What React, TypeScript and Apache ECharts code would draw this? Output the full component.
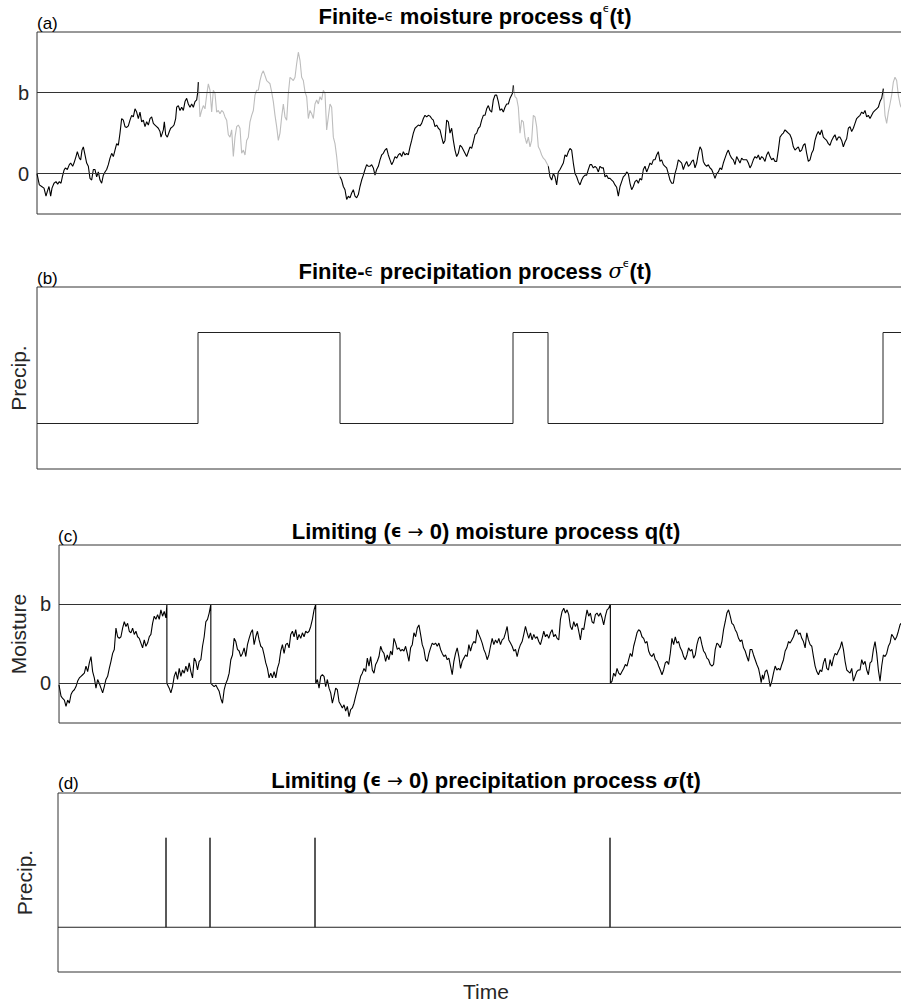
import React, { useEffect, useRef } from "react";
import * as echarts from "echarts";

// ---------- Panel (a): finite-epsilon moisture process q^eps(t) (units of b) ----------
const tA = [
  0, 7, 14, 21, 27, 31, 36, 41, 45, 51, 57, 62, 67, 72, 76, 81, 85, 91, 97, 101, 107, 111, 117, 121, 127, 131, 135, 139, 144, 149,
  154, 159, 164, 169, 174, 179, 184, 189, 194, 199, 204, 209, 214, 219, 224, 229, 234, 239, 244, 249, 254, 259, 264, 269, 274, 279,
  284, 289, 294, 299, 304, 309, 314, 319, 324, 329, 334, 339, 344, 349, 354, 359, 364, 369, 372, 376, 379, 382, 386, 391, 397, 401,
  407, 411, 416, 419, 424, 429, 434, 439, 444, 449, 454, 459, 464, 469, 474, 479, 482,
  484, 489, 494, 499, 504, 509, 514, 519, 524, 529, 534, 539, 544, 549, 554, 559, 564, 569, 574, 579, 584, 589, 594, 599, 604, 609,
  614, 619, 624, 629, 634, 639, 644, 649, 654, 659, 664, 669, 674, 679, 684, 689, 694, 699, 704, 709, 714, 719, 724, 729, 734, 739,
  744, 749, 754, 759, 764, 769, 774, 779, 784, 789, 794, 799, 804, 809, 814, 819, 824, 829, 834, 839, 844, 849, 854, 859, 864, 869,
  874, 879, 884, 889, 894, 899, 904,
  909, 914, 919, 924, 929, 934, 939, 944, 949, 954, 959, 964, 969, 974, 979, 984, 989, 994, 999, 1004, 1009, 1014, 1019, 1024, 1029,
  1034, 1039, 1044, 1049, 1054, 1059, 1064, 1069, 1074, 1079, 1084, 1089, 1094, 1099, 1104, 1109, 1114, 1119, 1124, 1129, 1134, 1139,
  1144, 1149, 1154, 1159, 1164, 1169, 1174, 1179, 1184, 1189, 1194, 1199, 1204, 1209, 1214, 1219, 1224, 1229, 1234, 1239, 1244, 1249,
  1254, 1259, 1264, 1269, 1274, 1279, 1284, 1289, 1294, 1299, 1304, 1309, 1314, 1319, 1324, 1329, 1334, 1339, 1344, 1349, 1354, 1359,
  1364, 1369, 1374, 1379, 1384, 1389, 1394, 1399, 1404, 1409, 1414, 1419, 1424, 1427,
  1429, 1434, 1439, 1444, 1449, 1454, 1459, 1464, 1469, 1474, 1479, 1484, 1489, 1494, 1499, 1504, 1509, 1514, 1519, 1524, 1529, 1534,
  1539, 1544, 1549, 1554, 1559, 1564, 1569, 1574, 1579, 1584, 1589, 1594, 1599, 1604, 1609, 1614, 1619, 1624, 1629, 1634, 1639, 1644,
  1649, 1654, 1659, 1664, 1669, 1674, 1679, 1684, 1689, 1694, 1699, 1704, 1709, 1714, 1719, 1724, 1729, 1734, 1739, 1744, 1749, 1754,
  1759, 1764, 1769, 1774, 1779, 1784, 1789, 1794, 1799, 1804, 1809, 1814, 1819, 1824, 1829, 1834, 1839, 1844, 1849, 1854, 1859, 1864,
  1869, 1874, 1879, 1884, 1889, 1894, 1899, 1904, 1909, 1914, 1919, 1924, 1929, 1934, 1939, 1944, 1949, 1954, 1959, 1964, 1969, 1974,
  1979, 1984, 1989, 1994, 1999, 2004, 2009, 2014, 2019, 2024, 2029, 2034, 2039, 2044, 2049, 2054, 2059, 2064, 2069, 2074, 2079, 2084,
  2089, 2094, 2099, 2104, 2109, 2114, 2119, 2124, 2129, 2134, 2139, 2144, 2149, 2154, 2159, 2164, 2169, 2174, 2179, 2184, 2189, 2194,
  2199, 2204, 2209, 2214, 2219, 2224, 2229, 2234, 2239, 2244, 2249, 2254, 2259, 2264, 2269, 2274, 2279, 2284, 2289, 2294, 2299, 2304,
  2309, 2314, 2319, 2324, 2329, 2334, 2339, 2344, 2349, 2354, 2359, 2364, 2369, 2374, 2379, 2384, 2389, 2394, 2399, 2404, 2409, 2414,
  2419, 2424, 2429, 2434, 2439, 2444, 2449, 2454, 2459, 2464, 2469, 2474, 2479, 2484, 2489, 2494, 2499, 2504, 2509, 2514, 2519, 2524,
  2529, 2534, 2537,
  2539, 2544, 2549, 2554, 2559, 2564, 2569, 2574, 2579, 2584, 2589, 2592,
];
const qA = [
  0.0, -0.14, -0.16, -0.18, -0.28, -0.22, -0.16, -0.28, -0.18, -0.12, -0.1, -0.13, -0.1, -0.12, -0.04, 0.04, 0.07, 0.05, 0.11, 0.13,
  0.09, 0.13, 0.21, 0.27, 0.19, 0.17, 0.29, 0.33, 0.23, 0.13, 0.09, -0.06, -0.08, 0.05, 0.05, -0.04, 0.02, -0.08, -0.12, -0.02, 0.02,
  0.05, 0.11, 0.19, 0.25, 0.21, 0.29, 0.37, 0.35, 0.5, 0.68, 0.66, 0.58, 0.57, 0.59, 0.66, 0.72, 0.7, 0.8, 0.76, 0.68, 0.76, 0.64,
  0.66, 0.58, 0.64, 0.6, 0.68, 0.7, 0.62, 0.6, 0.58, 0.56, 0.52, 0.45, 0.5, 0.54, 0.64, 0.48, 0.45, 0.52, 0.56, 0.58, 0.6, 0.68, 0.82,
  0.84, 0.78, 0.82, 0.78, 0.89, 0.93, 0.86, 0.82, 0.86, 0.82, 0.89, 0.91, 1.0,
  1.13, 0.7, 0.78, 0.84, 0.8, 0.97, 1.11, 1.03, 0.76, 1.03, 0.99, 0.76, 0.78, 0.74, 0.78, 0.76, 0.7, 0.66, 0.48, 0.45, 0.54, 0.21,
  0.45, 0.58, 0.6, 0.56, 0.25, 0.29, 0.23, 0.41, 0.45, 0.64, 0.72, 0.78, 0.97, 1.03, 1.03, 1.15, 1.23, 1.27, 1.21, 1.15, 1.13, 1.11,
  1.01, 0.89, 0.72, 0.58, 0.41, 0.5, 0.7, 0.86, 0.7, 0.66, 0.99, 1.19, 1.17, 1.15, 1.19, 1.36, 1.5, 1.4, 1.19, 1.15, 1.01, 0.95, 0.68,
  0.78, 0.74, 0.68, 0.86, 0.91, 0.86, 0.95, 0.91, 1.03, 0.99, 0.54, 0.7, 0.86, 0.82, 0.45, 0.37, 0.21, 0.0,
  -0.04, -0.08, -0.16, -0.2, -0.32, -0.28, -0.3, -0.24, -0.2, -0.28, -0.3, -0.26, -0.16, -0.08, -0.02, 0.05, 0.11, 0.09, 0.09, 0.11,
  0.07, -0.02, 0.05, 0.09, 0.17, 0.23, 0.25, 0.29, 0.31, 0.23, 0.17, 0.11, 0.15, 0.21, 0.19, 0.23, 0.25, 0.21, 0.27, 0.23, 0.25, 0.23,
  0.33, 0.41, 0.5, 0.56, 0.58, 0.6, 0.59, 0.62, 0.68, 0.72, 0.7, 0.72, 0.71, 0.68, 0.66, 0.58, 0.6, 0.56, 0.54, 0.45, 0.37, 0.41, 0.66,
  0.64, 0.5, 0.56, 0.41, 0.29, 0.21, 0.25, 0.35, 0.33, 0.29, 0.25, 0.21, 0.27, 0.33, 0.31, 0.39, 0.48, 0.5, 0.56, 0.58, 0.66, 0.72,
  0.72, 0.8, 0.84, 0.78, 0.76, 0.91, 0.97, 0.97, 0.89, 0.78, 0.8, 0.76, 0.82, 0.86, 0.86, 0.93, 0.97, 1.0,
  1.09, 0.95, 0.93, 0.82, 0.5, 0.66, 0.64, 0.45, 0.37, 0.45, 0.33, 0.41, 0.72, 0.7, 0.58, 0.33, 0.29, 0.23, 0.19, 0.17, 0.13, 0.09,
  -0.04, -0.08, 0.0, -0.04, -0.14, 0.02, 0.05, 0.09, 0.13, 0.23, 0.21, 0.27, 0.31, 0.29, 0.13, 0.0, -0.04, -0.1, -0.14, -0.08, -0.04,
  -0.02, -0.02, 0.05, 0.11, 0.11, 0.07, 0.09, 0.07, 0.02, 0.09, 0.07, 0.07, -0.04, -0.02, -0.06, -0.06, -0.08, -0.1, -0.14, -0.17,
  -0.28, -0.16, -0.1, -0.04, -0.02, 0.02, 0.0, -0.12, -0.2, -0.16, -0.1, -0.08, -0.12, -0.06, -0.08, 0.05, 0.09, 0.02, 0.07, 0.13,
  0.11, 0.17, 0.17, 0.23, 0.27, 0.15, 0.17, 0.11, 0.09, 0.07, 0.0, -0.08, -0.12, -0.12, 0.0, 0.07, 0.17, 0.15, 0.13, 0.05, 0.11, 0.15,
  0.09, 0.11, 0.15, 0.17, 0.07, 0.13, 0.25, 0.33, 0.29, 0.15, 0.11, 0.09, 0.11, 0.07, 0.05, 0.0, -0.06, 0.0, 0.02, 0.07, 0.05, 0.13,
  0.19, 0.25, 0.29, 0.23, 0.19, 0.17, 0.11, 0.21, 0.17, 0.13, 0.19, 0.17, 0.17, 0.17, 0.13, 0.07, 0.11, 0.17, 0.21, 0.19, 0.23, 0.17,
  0.21, 0.19, 0.15, 0.23, 0.27, 0.21, 0.17, 0.19, 0.15, 0.15, 0.29, 0.45, 0.48, 0.5, 0.54, 0.52, 0.5, 0.48, 0.43, 0.33, 0.29, 0.31,
  0.33, 0.27, 0.29, 0.35, 0.37, 0.25, 0.15, 0.17, 0.25, 0.29, 0.41, 0.48, 0.52, 0.48, 0.54, 0.45, 0.43, 0.41, 0.37, 0.35, 0.41, 0.45,
  0.48, 0.41, 0.45, 0.45, 0.41, 0.33, 0.39, 0.43, 0.56, 0.58, 0.52, 0.56, 0.62, 0.68, 0.7, 0.72, 0.76, 0.74, 0.78, 0.7, 0.72, 0.68,
  0.72, 0.76, 0.78, 0.8, 0.82, 0.89, 0.93, 1.0,
  1.05, 0.72, 0.62, 0.76, 0.86, 0.97, 1.13, 1.19, 1.15, 0.97, 0.86, 0.82,
];
// precipitation (sigma^eps = 1) intervals, same time units
const precipStartA = [483, 1428, 2538];
const precipEndA = [909, 1533, 2628];
const tMaxA = 2628;

// ---------- Panel (c): limiting moisture process q(t) ----------
const tC = [
  0, 6, 11, 16, 21, 26, 31, 36, 41, 46, 51, 56, 61, 66, 71, 76, 81, 86, 91, 96, 101, 106, 111, 116, 121, 126, 131, 136, 141, 146, 151,
  156, 161, 166, 171, 176, 181, 186, 191, 196, 201, 206, 211, 216, 221, 226, 231, 236, 241, 246, 251, 256, 261, 266, 271, 276, 281,
  286, 291, 296, 301, 306, 311, 316, 321, 324,
  324, 326, 331, 336, 341, 346, 351, 356, 361, 366, 371, 376, 381, 386, 391, 396, 401, 406, 411, 416, 421, 426, 431, 436, 441, 446,
  451, 456,
  456, 461, 466, 471, 476, 481, 486, 491, 496, 501, 506, 511, 516, 521, 526, 531, 536, 541, 546, 551, 556, 561, 566, 571, 576, 581,
  586, 591, 596, 601, 606, 611, 616, 621, 626, 631, 636, 641, 646, 651, 656, 661, 666, 671, 676, 681, 686, 691, 696, 701, 706, 711,
  716, 721, 726, 731, 736, 741, 746, 751, 756, 761, 766, 771,
  771, 776, 781, 786, 791, 796, 801, 806, 811, 816, 821, 826, 831, 836, 841, 846, 851, 856, 861, 866, 871, 876, 881, 886, 891, 896,
  901, 906, 911, 916, 921, 926, 931, 936, 941, 946, 951, 956, 961, 966, 971, 976, 981, 986, 991, 996, 1001, 1006, 1011, 1016, 1021,
  1026, 1031, 1036, 1041, 1046, 1051, 1056, 1061, 1066, 1071, 1076, 1081, 1086, 1091, 1096, 1101, 1106, 1111, 1116, 1121, 1126, 1131,
  1136, 1141, 1146, 1151, 1156, 1161, 1166, 1171, 1176, 1181, 1186, 1191, 1196, 1201, 1206, 1211, 1216, 1221, 1226, 1231, 1236, 1241,
  1246, 1251, 1256, 1261, 1266, 1271, 1276, 1281, 1286, 1291, 1296, 1301, 1306, 1311, 1316, 1321, 1326, 1331, 1336, 1341, 1346, 1351,
  1356, 1361, 1366, 1371, 1376, 1381, 1386, 1391, 1396, 1401, 1406, 1411, 1416, 1421, 1426, 1431, 1436, 1441, 1446, 1451, 1456, 1461,
  1466, 1471, 1476, 1481, 1486, 1491, 1496, 1501, 1506, 1511, 1516, 1521, 1526, 1531, 1536, 1541, 1546, 1551, 1556, 1561, 1566, 1571,
  1576, 1581, 1586, 1591, 1596, 1601, 1606, 1611, 1616, 1621, 1626, 1631, 1636, 1641, 1646, 1651, 1656,
  1656, 1661, 1666, 1671, 1676, 1681, 1686, 1691, 1696, 1701, 1706, 1711, 1716, 1721, 1726, 1731, 1736, 1741, 1746, 1751, 1756, 1761,
  1766, 1771, 1776, 1781, 1786, 1791, 1796, 1801, 1806, 1811, 1816, 1821, 1826, 1831, 1836, 1841, 1846, 1851, 1856, 1861, 1866, 1871,
  1876, 1881, 1886, 1891, 1896, 1901, 1906, 1911, 1916, 1921, 1926, 1931, 1936, 1941, 1946, 1951, 1956, 1961, 1966, 1971, 1976, 1981,
  1986, 1991, 1996, 2001, 2006, 2011, 2016, 2021, 2026, 2031, 2036, 2041, 2046, 2051, 2056, 2061, 2066, 2071, 2076, 2081, 2086, 2091,
  2096, 2101, 2106, 2109, 2113, 2116, 2121, 2126, 2131, 2136, 2141, 2146, 2151, 2156, 2161, 2166, 2171, 2176, 2181, 2186, 2191, 2196,
  2201, 2206, 2211, 2216, 2221, 2226, 2231, 2236, 2241, 2246, 2251, 2256, 2261, 2266, 2271, 2276, 2281, 2286, 2291, 2296, 2301, 2306,
  2311, 2316, 2321, 2326, 2331, 2336, 2341, 2346, 2351, 2356, 2361, 2366, 2371, 2376, 2381, 2386, 2391, 2396, 2401, 2406, 2411, 2416,
  2421, 2426, 2431, 2436, 2441, 2446, 2451, 2456, 2461, 2466, 2471, 2476, 2481, 2486, 2491, 2496, 2501, 2506, 2511, 2516, 2521, 2526,
  2529,
];
const qC = [
  -0.02, -0.16, -0.19, -0.21, -0.29, -0.21, -0.25, -0.14, -0.1, -0.08, -0.04, 0.03, 0.07, 0.09, 0.11, 0.13, 0.22, 0.15, 0.26, 0.34,
  0.15, 0.07, -0.06, 0.05, 0.0, -0.06, -0.12, -0.04, 0.05, 0.09, 0.19, 0.28, 0.38, 0.43, 0.7, 0.59, 0.57, 0.59, 0.7, 0.78, 0.72,
  0.76, 0.66, 0.64, 0.7, 0.62, 0.66, 0.59, 0.57, 0.51, 0.45, 0.55, 0.47, 0.51, 0.59, 0.62, 0.76, 0.85, 0.81, 0.87, 0.81, 0.93, 0.85,
  0.91, 0.83, 1.0,
  0.0, 0.0, -0.06, -0.12, -0.04, 0.09, 0.15, 0.05, 0.19, 0.09, 0.17, 0.13, 0.22, 0.15, 0.26, 0.15, 0.07, 0.32, 0.28, 0.17, 0.28, 0.3,
  0.47, 0.59, 0.78, 0.81, 0.89, 1.0,
  0.0, -0.02, -0.04, -0.02, -0.06, -0.1, -0.19, -0.25, -0.08, 0.0, 0.05, 0.13, 0.3, 0.36, 0.57, 0.53, 0.43, 0.41, 0.34, 0.38, 0.45,
  0.34, 0.49, 0.57, 0.64, 0.68, 0.49, 0.59, 0.66, 0.55, 0.47, 0.45, 0.36, 0.26, 0.19, 0.07, 0.13, 0.07, 0.15, 0.07, 0.19, 0.26, 0.41,
  0.49, 0.38, 0.49, 0.51, 0.45, 0.62, 0.66, 0.59, 0.68, 0.55, 0.62, 0.57, 0.64, 0.59, 0.66, 0.64, 0.66, 0.72, 0.81, 0.93, 1.0,
  0.0, 0.05, -0.06, 0.09, 0.11, 0.09, -0.04, 0.05, -0.06, -0.12, -0.25, -0.16, -0.06, -0.08, -0.23, -0.27, -0.31, -0.27, -0.35, -0.29,
  -0.42, -0.33, -0.31, -0.25, -0.16, -0.08, 0.0, 0.09, 0.13, 0.19, 0.15, 0.32, 0.22, 0.34, 0.17, 0.13, 0.24, 0.28, 0.34, 0.47, 0.41,
  0.38, 0.28, 0.36, 0.3, 0.41, 0.36, 0.57, 0.51, 0.43, 0.45, 0.41, 0.43, 0.41, 0.47, 0.38, 0.28, 0.45, 0.49, 0.64, 0.59, 0.7, 0.74,
  0.62, 0.49, 0.43, 0.3, 0.28, 0.38, 0.45, 0.51, 0.49, 0.51, 0.47, 0.51, 0.43, 0.38, 0.34, 0.36, 0.3, 0.32, 0.22, 0.11, 0.28, 0.38,
  0.45, 0.34, 0.19, 0.28, 0.32, 0.36, 0.34, 0.49, 0.41, 0.49, 0.53, 0.51, 0.68, 0.62, 0.57, 0.51, 0.43, 0.38, 0.3, 0.36, 0.47, 0.57,
  0.49, 0.55, 0.51, 0.57, 0.49, 0.55, 0.57, 0.64, 0.72, 0.55, 0.51, 0.47, 0.41, 0.43, 0.34, 0.43, 0.49, 0.53, 0.62, 0.72, 0.64, 0.57,
  0.64, 0.55, 0.62, 0.57, 0.59, 0.53, 0.49, 0.57, 0.66, 0.59, 0.62, 0.57, 0.64, 0.68, 0.59, 0.62, 0.57, 0.55, 0.81, 0.91, 0.95, 0.89,
  0.93, 0.87, 0.72, 0.68, 0.78, 0.72, 0.76, 0.66, 0.55, 0.7, 0.68, 0.81, 0.93, 0.85, 0.89, 0.78, 0.76, 0.87, 0.89, 0.85, 0.89, 0.83,
  0.74, 0.85, 0.93, 0.95, 1.0,
  0.0, 0.03, 0.13, 0.09, 0.19, 0.13, 0.11, 0.15, 0.19, 0.24, 0.22, 0.3, 0.38, 0.34, 0.47, 0.55, 0.64, 0.68, 0.66, 0.59, 0.57, 0.51,
  0.53, 0.41, 0.36, 0.34, 0.38, 0.3, 0.28, 0.22, 0.17, 0.11, 0.17, 0.26, 0.28, 0.24, 0.38, 0.57, 0.49, 0.59, 0.51, 0.53, 0.45, 0.41,
  0.34, 0.3, 0.36, 0.45, 0.41, 0.43, 0.32, 0.36, 0.49, 0.57, 0.59, 0.49, 0.41, 0.38, 0.32, 0.3, 0.24, 0.22, 0.24, 0.43, 0.51, 0.49,
  0.45, 0.53, 0.68, 0.78, 0.89, 0.93, 0.85, 0.76, 0.74, 0.68, 0.64, 0.57, 0.53, 0.55, 0.45, 0.41, 0.34, 0.28, 0.43, 0.43, 0.36, 0.3,
  0.24, 0.19, 0.09, 0.01, 0.11, 0.05, 0.15, 0.17, 0.09, -0.04, 0.03, 0.13, 0.22, 0.17, 0.19, 0.17, 0.24, 0.3, 0.41, 0.45, 0.53, 0.51,
  0.55, 0.59, 0.66, 0.68, 0.62, 0.64, 0.57, 0.53, 0.45, 0.64, 0.55, 0.49, 0.47, 0.34, 0.22, 0.15, 0.11, 0.17, 0.15, 0.26, 0.32, 0.19,
  0.17, 0.3, 0.22, 0.32, 0.38, 0.36, 0.41, 0.45, 0.53, 0.43, 0.28, 0.17, 0.15, 0.13, 0.19, 0.03, 0.09, 0.15, 0.17, 0.17, 0.3, 0.24,
  0.28, 0.17, 0.11, 0.26, 0.28, 0.43, 0.53, 0.38, 0.17, 0.03, 0.22, 0.36, 0.34, 0.38, 0.47, 0.51, 0.62, 0.59, 0.55, 0.59, 0.66, 0.74,
  0.76,
];
const resetTimesC = [324, 456, 771, 1656];
const tMaxC = 2568;

// axis ranges and tick labels
const moistureRange = [-0.5, 1.75];
const precipRange = [-0.5, 1.5];
const moistureTickValues = [0, 1];
const moistureTickLabels = ["0", "b"];

const FONT = "Liberation Sans, Arial, Helvetica, sans-serif";
const TXT = "#262626";

export default function App() {
  const ref = useRef<HTMLDivElement>(null);

  useEffect(() => {
    if (!ref.current) return;
    const chart = echarts.init(ref.current, undefined, { renderer: "svg" });

    // panel (a): split path into dry (black) and precipitating (gray) parts
    const ptsA = tA.map((t, i) => [t, qA[i]]);
    const inPrecip = (t: number) => precipStartA.some((s, k) => t > s && t < precipEndA[k]);
    const segWet = ptsA.slice(0, -1).map((p, i) => inPrecip((p[0] + ptsA[i + 1][0]) / 2));
    const pick = (wet: boolean) =>
      ptsA.map((p, i) => {
        const a = i > 0 && segWet[i - 1] === wet;
        const b = i < segWet.length && segWet[i] === wet;
        return a || b ? p : [p[0], "-"];
      });
    const dryA = pick(false);
    const wetA = pick(true);

    // panel (b): step function
    const stepB: number[][] = [[0, 0]];
    precipStartA.forEach((s, k) => {
      const e = precipEndA[k];
      stepB.push([s, 0], [s, 1], [e, 1]);
      if (e < tMaxA) stepB.push([e, 0]);
    });
    if (precipEndA[precipEndA.length - 1] < tMaxA) stepB.push([tMaxA, 0]);

    // panel (c)
    const ptsC = tC.map((t, i) => [t, qC[i]]);

    // panel (d): spikes at reset times
    const spikesD: number[][] = [[0, 0]];
    resetTimesC.forEach((r) => spikesD.push([r, 0], [r, 1], [r, 0]));
    spikesD.push([tMaxC, 0]);

    const gridBase = { show: true, borderColor: "#333", borderWidth: 1, containLabel: false };
    const grids = [
      { ...gridBase, left: 37, top: 32, width: 876, height: 182 },
      { ...gridBase, left: 37, top: 287, width: 876, height: 182 },
      { ...gridBase, left: 58, top: 545, width: 856, height: 178 },
      { ...gridBase, left: 58, top: 793, width: 856, height: 179 },
    ];

    const hidden = {
      axisLine: { show: false },
      axisTick: { show: false },
      axisLabel: { show: false },
      splitLine: { show: false },
    };
    const xAxes = [0, 1, 2, 3].map((g) => ({
      type: "value",
      gridIndex: g,
      min: 0,
      max: g < 2 ? tMaxA : tMaxC,
      ...hidden,
      ...(g === 3
        ? {
            name: "Time",
            nameLocation: "middle",
            nameGap: 9,
            nameTextStyle: { fontFamily: FONT, fontSize: 21, color: TXT, verticalAlign: "top" },
          }
        : {}),
    }));

    const moistureAxis = (g: number, name?: string, gap?: number) => ({
      type: "value",
      gridIndex: g,
      min: moistureRange[0],
      max: moistureRange[1],
      interval: 0.25,
      axisLine: { show: false },
      axisTick: { show: false },
      splitLine: { show: false },
      axisLabel: {
        show: true,
        margin: 8,
        fontFamily: FONT,
        fontSize: 20,
        color: TXT,
        formatter: (v: number) => {
          const i = moistureTickValues.findIndex((x) => Math.abs(x - v) < 1e-9);
          return i >= 0 ? moistureTickLabels[i] : "";
        },
      },
      ...(name
        ? {
            name,
            nameLocation: "middle",
            nameRotate: 90,
            nameGap: gap,
            nameTextStyle: { fontFamily: FONT, fontSize: 21, color: TXT },
          }
        : {}),
    });
    const precipAxis = (g: number, gap: number) => ({
      type: "value",
      gridIndex: g,
      min: precipRange[0],
      max: precipRange[1],
      ...hidden,
      name: "Precip.",
      nameLocation: "middle",
      nameRotate: 90,
      nameGap: gap,
      nameTextStyle: { fontFamily: FONT, fontSize: 21, color: TXT },
    });

    const refLines = {
      silent: true,
      symbol: ["none", "none"],
      label: { show: false },
      lineStyle: { color: "#333", width: 1, type: "solid" },
      data: moistureTickValues.map((v) => ({ yAxis: v })),
      animation: false,
    };

    const lineBase = {
      type: "line",
      showSymbol: false,
      symbol: "none",
      connectNulls: false,
      animation: false,
      silent: true,
    };

    const richTitle = {
      b: { fontFamily: FONT, fontWeight: "bold", fontSize: 22, fill: "#000", color: "#000", lineHeight: 26 },
      e: { fontFamily: "DejaVu Sans", fontSize: 15, color: "#000", fill: "#000" },
      eb: { fontFamily: "DejaVu Sans", fontWeight: "bold", fontSize: 17, color: "#000", fill: "#000" },
      s: { fontFamily: "DejaVu Sans", fontSize: 11, color: "#000", fill: "#000", verticalAlign: "top", lineHeight: 17 },
      ar: { fontFamily: "DejaVu Sans", fontSize: 19, color: "#000", fill: "#000" },
      g: { fontFamily: "DejaVu Serif", fontStyle: "italic", fontSize: 21, color: "#000", fill: "#000" },
      gb: { fontFamily: "DejaVu Serif", fontStyle: "italic", fontWeight: "bold", fontSize: 21, color: "#000", fill: "#000" },
    };
    const title = (x: number, y: number, text: string) => ({
      type: "text",
      x,
      y,
      silent: true,
      style: { text, rich: richTitle, align: "center", verticalAlign: "middle", fill: "#000" },
    });
    const tag = (x: number, y: number, text: string) => ({
      type: "text",
      x,
      y,
      silent: true,
      style: { text, fontFamily: FONT, fontSize: 17, fill: "#000", align: "left", verticalAlign: "middle" },
    });

    chart.setOption({
      animation: false,
      backgroundColor: "#fff",
      grid: grids,
      xAxis: xAxes,
      yAxis: [moistureAxis(0), precipAxis(1, 8), moistureAxis(2, "Moisture", 28), precipAxis(3, 23)],
      series: [
        { ...lineBase, xAxisIndex: 0, yAxisIndex: 0, data: dryA, lineStyle: { color: "#000", width: 1.1 }, markLine: refLines, z: 3 },
        { ...lineBase, xAxisIndex: 0, yAxisIndex: 0, data: wetA, lineStyle: { color: "#bdbdbd", width: 1.1 }, z: 2 },
        { ...lineBase, xAxisIndex: 1, yAxisIndex: 1, data: stepB, lineStyle: { color: "#222", width: 1 } },
        { ...lineBase, xAxisIndex: 2, yAxisIndex: 2, data: ptsC, lineStyle: { color: "#000", width: 1.1 }, markLine: refLines },
        { ...lineBase, xAxisIndex: 3, yAxisIndex: 3, data: spikesD, lineStyle: { color: "#222", width: 1 } },
      ],
      graphic: [
        title(475, 16, "{b|Finite-}{e|ϵ}{b| moisture process q}{s|ϵ}{b|(t)}"),
        title(475, 271, "{b|Finite-}{e|ϵ}{b| precipitation process }{g|σ}{s|ϵ}{b|(t)}"),
        title(486, 531, "{b|Limiting (}{eb|ϵ }{ar|→}{b| 0) moisture process q(t)}"),
        title(486, 780, "{b|Limiting (}{eb|ϵ }{ar|→}{b| 0) precipitation process }{gb|σ}{b|(t)}"),
        tag(37, 23, "(a)"),
        tag(37, 278, "(b)"),
        tag(58, 536, "(c)"),
        tag(58, 783, "(d)"),
      ],
    });

    return () => chart.dispose();
  }, []);

  return (
    <div style={{ position: "absolute", left: 0, top: 0, width: 901, height: 1005, overflow: "hidden" }}>
      <div ref={ref} style={{ position: "absolute", left: 0, top: 0, width: 915, height: 1005 }} />
    </div>
  );
}
